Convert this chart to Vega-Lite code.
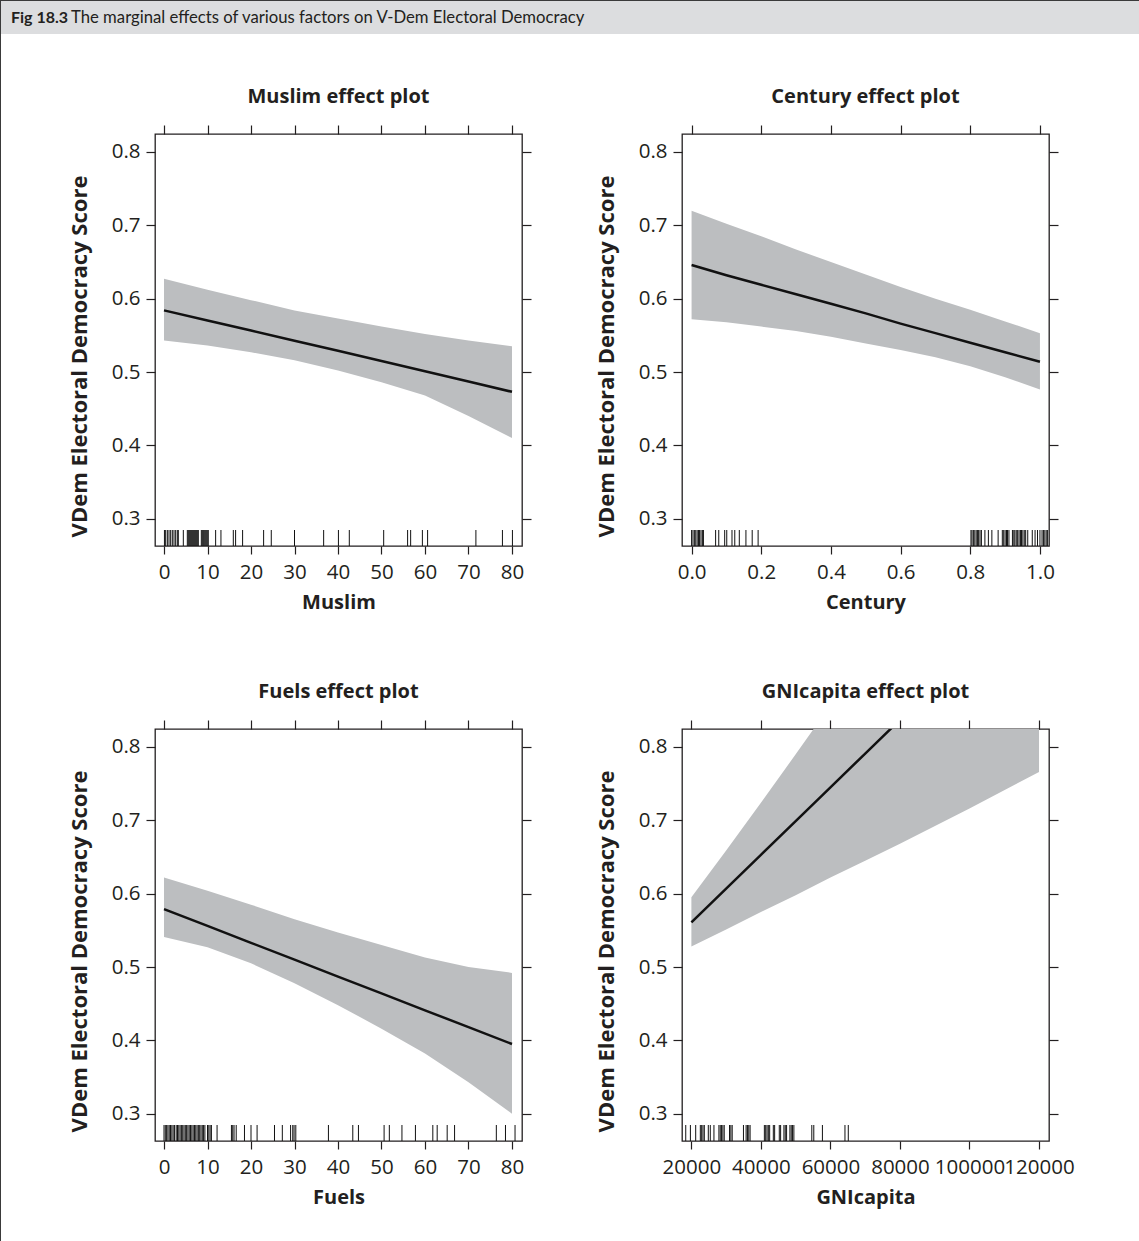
{
  "$schema": "https://vega.github.io/schema/vega-lite/v6.json",
  "padding": 0,
  "background": "white",
  "datasets": {
    "muslim": [
      {"x": 0, "lo": 0.543, "hi": 0.627, "fit": 0.584},
      {"x": 10, "lo": 0.536, "hi": 0.612, "fit": 0.5702},
      {"x": 20, "lo": 0.527, "hi": 0.598, "fit": 0.5565},
      {"x": 30, "lo": 0.516, "hi": 0.584, "fit": 0.5427},
      {"x": 40, "lo": 0.502, "hi": 0.573, "fit": 0.5289},
      {"x": 50, "lo": 0.486, "hi": 0.562, "fit": 0.5151},
      {"x": 60, "lo": 0.468, "hi": 0.552, "fit": 0.5011},
      {"x": 70, "lo": 0.44, "hi": 0.543, "fit": 0.4871},
      {"x": 80, "lo": 0.41, "hi": 0.535, "fit": 0.473}
    ],
    "muslim_rug": [
      {"x": 0.1}, {"x": 0.38}, {"x": 0.77}, {"x": 1.15}, {"x": 1.53}, {"x": 1.91}, {"x": 2.3}, {"x": 2.68}, {"x": 3.06}, {"x": 3.29},
      {"x": 4.44}, {"x": 5.36}, {"x": 5.59}, {"x": 5.82}, {"x": 6.05}, {"x": 6.28}, {"x": 6.51}, {"x": 6.74}, {"x": 6.97}, {"x": 7.2},
      {"x": 7.43}, {"x": 7.66}, {"x": 7.89}, {"x": 8.58}, {"x": 8.81}, {"x": 9.04}, {"x": 9.26}, {"x": 9.49}, {"x": 9.72}, {"x": 9.95},
      {"x": 10.18}, {"x": 11.87}, {"x": 13.09}, {"x": 15.93}, {"x": 16.46}, {"x": 18.07}, {"x": 22.9}, {"x": 24.66}, {"x": 30.0},
      {"x": 36.7}, {"x": 40.1}, {"x": 42.6}, {"x": 50.5}, {"x": 56.0}, {"x": 56.7}, {"x": 59.4}, {"x": 60.6}, {"x": 71.7}, {"x": 77.8}, {"x": 80.1}
    ],
    "century": [
      {"x": 0.0, "lo": 0.572, "hi": 0.72, "fit": 0.646},
      {"x": 0.1, "lo": 0.568, "hi": 0.702, "fit": 0.632},
      {"x": 0.2, "lo": 0.562, "hi": 0.685, "fit": 0.619},
      {"x": 0.3, "lo": 0.556, "hi": 0.667, "fit": 0.606},
      {"x": 0.4, "lo": 0.548, "hi": 0.65, "fit": 0.593},
      {"x": 0.5, "lo": 0.539, "hi": 0.633, "fit": 0.58},
      {"x": 0.6, "lo": 0.53, "hi": 0.616, "fit": 0.566},
      {"x": 0.7, "lo": 0.52, "hi": 0.6, "fit": 0.553},
      {"x": 0.8, "lo": 0.508, "hi": 0.585, "fit": 0.54},
      {"x": 0.9, "lo": 0.493, "hi": 0.569, "fit": 0.527},
      {"x": 1.0, "lo": 0.476, "hi": 0.553, "fit": 0.514}
    ],
    "century_rug": [
      {"x": 0.0}, {"x": 0.004}, {"x": 0.008}, {"x": 0.012}, {"x": 0.016}, {"x": 0.02}, {"x": 0.023}, {"x": 0.027}, {"x": 0.031}, {"x": 0.034},
      {"x": 0.069}, {"x": 0.078}, {"x": 0.095}, {"x": 0.101}, {"x": 0.116}, {"x": 0.124}, {"x": 0.137}, {"x": 0.156}, {"x": 0.174}, {"x": 0.191},
      {"x": 0.802}, {"x": 0.805}, {"x": 0.809}, {"x": 0.813}, {"x": 0.817}, {"x": 0.821}, {"x": 0.824}, {"x": 0.828}, {"x": 0.832},
      {"x": 0.842}, {"x": 0.852}, {"x": 0.862}, {"x": 0.88}, {"x": 0.892}, {"x": 0.896}, {"x": 0.9}, {"x": 0.904}, {"x": 0.907}, {"x": 0.911},
      {"x": 0.921}, {"x": 0.925}, {"x": 0.928}, {"x": 0.932}, {"x": 0.936}, {"x": 0.94}, {"x": 0.944}, {"x": 0.947}, {"x": 0.951}, {"x": 0.955},
      {"x": 0.959}, {"x": 0.965}, {"x": 0.978}, {"x": 0.986}, {"x": 0.993}, {"x": 1.0}, {"x": 1.006}, {"x": 1.01}, {"x": 1.014}, {"x": 1.018}, {"x": 1.022}
    ],
    "fuels": [
      {"x": 0, "lo": 0.541, "hi": 0.622, "fit": 0.579},
      {"x": 10, "lo": 0.527, "hi": 0.604, "fit": 0.556},
      {"x": 20, "lo": 0.505, "hi": 0.585, "fit": 0.533},
      {"x": 30, "lo": 0.478, "hi": 0.565, "fit": 0.51},
      {"x": 40, "lo": 0.448, "hi": 0.547, "fit": 0.487},
      {"x": 50, "lo": 0.416, "hi": 0.53, "fit": 0.464},
      {"x": 60, "lo": 0.382, "hi": 0.513, "fit": 0.441},
      {"x": 70, "lo": 0.343, "hi": 0.5, "fit": 0.418},
      {"x": 80, "lo": 0.3, "hi": 0.492, "fit": 0.395}
    ],
    "fuels_rug": [
      {"x": 0.0}, {"x": 0.3}, {"x": 0.6}, {"x": 0.9}, {"x": 1.2}, {"x": 1.5}, {"x": 1.8}, {"x": 2.1}, {"x": 2.4}, {"x": 2.8},
      {"x": 3.1}, {"x": 3.4}, {"x": 3.7}, {"x": 4.0}, {"x": 4.3}, {"x": 4.6}, {"x": 4.9}, {"x": 5.2}, {"x": 5.5}, {"x": 5.8},
      {"x": 6.1}, {"x": 6.4}, {"x": 6.7}, {"x": 7.0}, {"x": 7.3}, {"x": 7.6}, {"x": 7.9}, {"x": 8.2}, {"x": 8.5}, {"x": 8.8},
      {"x": 9.1}, {"x": 9.4}, {"x": 10.0}, {"x": 10.3}, {"x": 10.6}, {"x": 10.9}, {"x": 12.2}, {"x": 15.5}, {"x": 15.8}, {"x": 16.1},
      {"x": 16.6}, {"x": 18.5}, {"x": 20.0}, {"x": 21.4}, {"x": 25.4}, {"x": 27.2}, {"x": 29.1}, {"x": 29.6}, {"x": 29.9}, {"x": 30.3},
      {"x": 37.8}, {"x": 43.4}, {"x": 44.7}, {"x": 50.6}, {"x": 51.8}, {"x": 54.7}, {"x": 57.8}, {"x": 61.8}, {"x": 62.8}, {"x": 65.1},
      {"x": 66.8}, {"x": 76.4}, {"x": 78.5}, {"x": 80.7}
    ],
    "gni": [
      {"x": 20000, "lo": 0.528, "hi": 0.595, "fit": 0.561},
      {"x": 30000, "lo": 0.551, "hi": 0.659, "fit": 0.607},
      {"x": 40000, "lo": 0.575, "hi": 0.724, "fit": 0.653},
      {"x": 50000, "lo": 0.598, "hi": 0.79, "fit": 0.699},
      {"x": 60000, "lo": 0.622, "hi": 0.857, "fit": 0.745},
      {"x": 70000, "lo": 0.645, "hi": 0.925, "fit": 0.791},
      {"x": 80000, "lo": 0.668, "hi": 0.995, "fit": 0.837},
      {"x": 100000, "lo": 0.716, "hi": 1.135, "fit": 0.929},
      {"x": 120000, "lo": 0.766, "hi": 1.275, "fit": 1.022}
    ],
    "gni_rug": [
      {"x": 18378}, {"x": 19714}, {"x": 21240}, {"x": 22576}, {"x": 22958}, {"x": 23340}, {"x": 23721}, {"x": 24866}, {"x": 25439}, {"x": 26489},
      {"x": 27920}, {"x": 28302}, {"x": 28683}, {"x": 29065}, {"x": 29447}, {"x": 30973}, {"x": 31355}, {"x": 31737}, {"x": 34981}, {"x": 35744},
      {"x": 36126}, {"x": 36508}, {"x": 36889}, {"x": 40992}, {"x": 41374}, {"x": 41756}, {"x": 42137}, {"x": 42519}, {"x": 43569}, {"x": 43950},
      {"x": 45286}, {"x": 45668}, {"x": 46622}, {"x": 47004}, {"x": 47385}, {"x": 48340}, {"x": 48721}, {"x": 49103}, {"x": 49485}, {"x": 54637},
      {"x": 55210}, {"x": 57691}, {"x": 64179}, {"x": 65134}
    ],
    "head_a": [{"label": "Fig 18.3"}],
    "head_b": [{"label": "The marginal effects of various factors on V-Dem Electoral Democracy"}]
  },
  "spacing": 0,
  "hconcat": [
    {
      "width": 1, "height": 1241,
      "view": {"fill": "#3a3a3a", "stroke": null},
      "data": {"values": []},
      "mark": "point"
    },
    {
      "spacing": 52,
      "vconcat": [
        {
          "spacing": 0,
          "vconcat": [
            {
              "width": 1138, "height": 1,
              "view": {"fill": "#3a3a3a", "stroke": null},
              "data": {"values": []},
              "mark": "point"
            },
            {
              "width": 1138, "height": 33,
              "view": {"fill": "#dcdddf", "stroke": null},
              "layer": [
                {
                  "data": {"name": "head_a"},
                  "mark": {"type": "text", "font": "Lato", "fontSize": 16, "fontWeight": "bold", "align": "left", "baseline": "middle", "dx": 10, "color": "#231f20"},
                  "encoding": {
                    "x": {"datum": 0, "type": "quantitative", "scale": {"domain": [0, 1]}, "axis": null},
                    "y": {"datum": 0.5, "type": "quantitative", "scale": {"domain": [0, 1]}, "axis": null},
                    "text": {"field": "label"}
                  }
                },
                {
                  "data": {"name": "head_b"},
                  "mark": {"type": "text", "font": "Lato", "fontSize": 16.7, "fontWeight": "normal", "align": "left", "baseline": "middle", "dx": 70, "color": "#231f20"},
                  "encoding": {
                    "x": {"datum": 0, "type": "quantitative", "scale": {"domain": [0, 1]}, "axis": null},
                    "y": {"datum": 0.5, "type": "quantitative", "scale": {"domain": [0, 1]}, "axis": null},
                    "text": {"field": "label"}
                  }
                }
              ]
            }
          ]
        },
        {
          "spacing": 0,
          "hconcat": [
            {
              "width": 66, "height": 10,
              "view": {"stroke": null},
              "data": {"values": []},
              "mark": "point"
            },
            {
              "columns": 2,
              "bounds": "flush",
              "spacing": {"column": 160, "row": 183},
              "concat": [
                {
                  "width": 367, "height": 412,
                  "title": {"text": "Muslim effect plot"},
                  "layer": [
                    {
                      "data": {"name": "muslim"},
                      "mark": {"type": "area", "color": "#bcbec0", "clip": true},
                      "encoding": {
                        "x": {"field": "x", "type": "quantitative", "scale": {"domain": [-2.07, 82.3], "nice": false, "zero": false},
                          "axis": {"orient": "bottom", "values": [0, 10, 20, 30, 40, 50, 60, 70, 80], "title": "Muslim", "tickSize": 8}},
                        "y": {"field": "lo", "type": "quantitative", "scale": {"domain": [0.2628, 0.8245], "nice": false, "zero": false},
                          "axis": {"orient": "left", "values": [0.3, 0.4, 0.5, 0.6, 0.7, 0.8], "format": ".1f", "title": "VDem Electoral Democracy Score"}},
                        "y2": {"field": "hi"}
                      }
                    },
                    {
                      "data": {"name": "muslim"},
                      "mark": {"type": "line", "color": "#111111", "strokeWidth": 2.5, "clip": true},
                      "encoding": {
                        "x": {"field": "x", "type": "quantitative", "scale": {"domain": [-2.07, 82.3], "nice": false, "zero": false},
                          "axis": {"orient": "top", "values": [0, 10, 20, 30, 40, 50, 60, 70, 80], "labels": false, "title": null}},
                        "y": {"field": "fit", "type": "quantitative", "scale": {"domain": [0.2628, 0.8245], "nice": false, "zero": false},
                          "axis": {"orient": "right", "values": [0.3, 0.4, 0.5, 0.6, 0.7, 0.8], "labels": false, "title": null}}
                      }
                    },
                    {
                      "data": {"name": "muslim_rug"},
                      "mark": {"type": "rule", "color": "#111111", "strokeWidth": 1, "clip": true},
                      "encoding": {
                        "x": {"field": "x", "type": "quantitative", "scale": {"domain": [-2.07, 82.3], "nice": false, "zero": false}, "axis": null},
                        "y": {"datum": 0.2628, "type": "quantitative", "scale": {"domain": [0.2628, 0.8245], "nice": false, "zero": false}, "axis": null},
                        "y2": {"datum": 0.2846}
                      }
                    }
                  ],
                  "resolve": {"axis": {"x": "independent", "y": "independent"}}
                },
                {
                  "width": 367, "height": 412,
                  "title": {"text": "Century effect plot"},
                  "layer": [
                    {
                      "data": {"name": "century"},
                      "mark": {"type": "area", "color": "#bcbec0", "clip": true},
                      "encoding": {
                        "x": {"field": "x", "type": "quantitative", "scale": {"domain": [-0.0275, 1.026], "nice": false, "zero": false},
                          "axis": {"orient": "bottom", "values": [0, 0.2, 0.4, 0.6, 0.8, 1.0], "format": ".1f", "title": "Century", "tickSize": 8}},
                        "y": {"field": "lo", "type": "quantitative", "scale": {"domain": [0.2628, 0.8245], "nice": false, "zero": false},
                          "axis": {"orient": "left", "values": [0.3, 0.4, 0.5, 0.6, 0.7, 0.8], "format": ".1f", "title": "VDem Electoral Democracy Score"}},
                        "y2": {"field": "hi"}
                      }
                    },
                    {
                      "data": {"name": "century"},
                      "mark": {"type": "line", "color": "#111111", "strokeWidth": 2.5, "clip": true},
                      "encoding": {
                        "x": {"field": "x", "type": "quantitative", "scale": {"domain": [-0.0275, 1.026], "nice": false, "zero": false},
                          "axis": {"orient": "top", "values": [0, 0.2, 0.4, 0.6, 0.8, 1.0], "labels": false, "title": null}},
                        "y": {"field": "fit", "type": "quantitative", "scale": {"domain": [0.2628, 0.8245], "nice": false, "zero": false},
                          "axis": {"orient": "right", "values": [0.3, 0.4, 0.5, 0.6, 0.7, 0.8], "labels": false, "title": null}}
                      }
                    },
                    {
                      "data": {"name": "century_rug"},
                      "mark": {"type": "rule", "color": "#111111", "strokeWidth": 1, "clip": true},
                      "encoding": {
                        "x": {"field": "x", "type": "quantitative", "scale": {"domain": [-0.0275, 1.026], "nice": false, "zero": false}, "axis": null},
                        "y": {"datum": 0.2628, "type": "quantitative", "scale": {"domain": [0.2628, 0.8245], "nice": false, "zero": false}, "axis": null},
                        "y2": {"datum": 0.2846}
                      }
                    }
                  ],
                  "resolve": {"axis": {"x": "independent", "y": "independent"}}
                },
                {
                  "width": 367, "height": 412,
                  "title": {"text": "Fuels effect plot"},
                  "layer": [
                    {
                      "data": {"name": "fuels"},
                      "mark": {"type": "area", "color": "#bcbec0", "clip": true},
                      "encoding": {
                        "x": {"field": "x", "type": "quantitative", "scale": {"domain": [-2.07, 82.3], "nice": false, "zero": false},
                          "axis": {"orient": "bottom", "values": [0, 10, 20, 30, 40, 50, 60, 70, 80], "title": "Fuels", "tickSize": 8}},
                        "y": {"field": "lo", "type": "quantitative", "scale": {"domain": [0.2628, 0.8245], "nice": false, "zero": false},
                          "axis": {"orient": "left", "values": [0.3, 0.4, 0.5, 0.6, 0.7, 0.8], "format": ".1f", "title": "VDem Electoral Democracy Score"}},
                        "y2": {"field": "hi"}
                      }
                    },
                    {
                      "data": {"name": "fuels"},
                      "mark": {"type": "line", "color": "#111111", "strokeWidth": 2.5, "clip": true},
                      "encoding": {
                        "x": {"field": "x", "type": "quantitative", "scale": {"domain": [-2.07, 82.3], "nice": false, "zero": false},
                          "axis": {"orient": "top", "values": [0, 10, 20, 30, 40, 50, 60, 70, 80], "labels": false, "title": null}},
                        "y": {"field": "fit", "type": "quantitative", "scale": {"domain": [0.2628, 0.8245], "nice": false, "zero": false},
                          "axis": {"orient": "right", "values": [0.3, 0.4, 0.5, 0.6, 0.7, 0.8], "labels": false, "title": null}}
                      }
                    },
                    {
                      "data": {"name": "fuels_rug"},
                      "mark": {"type": "rule", "color": "#111111", "strokeWidth": 1, "clip": true},
                      "encoding": {
                        "x": {"field": "x", "type": "quantitative", "scale": {"domain": [-2.07, 82.3], "nice": false, "zero": false}, "axis": null},
                        "y": {"datum": 0.2628, "type": "quantitative", "scale": {"domain": [0.2628, 0.8245], "nice": false, "zero": false}, "axis": null},
                        "y2": {"datum": 0.2846}
                      }
                    }
                  ],
                  "resolve": {"axis": {"x": "independent", "y": "independent"}}
                },
                {
                  "width": 367, "height": 412,
                  "title": {"text": "GNIcapita effect plot"},
                  "layer": [
                    {
                      "data": {"name": "gni"},
                      "mark": {"type": "area", "color": "#bcbec0", "clip": true},
                      "encoding": {
                        "x": {"field": "x", "type": "quantitative", "scale": {"domain": [17300, 122870], "nice": false, "zero": false},
                          "axis": {"orient": "bottom", "values": [20000, 40000, 60000, 80000, 100000, 120000], "format": "d", "title": "GNIcapita", "tickSize": 8}},
                        "y": {"field": "lo", "type": "quantitative", "scale": {"domain": [0.2628, 0.8245], "nice": false, "zero": false},
                          "axis": {"orient": "left", "values": [0.3, 0.4, 0.5, 0.6, 0.7, 0.8], "format": ".1f", "title": "VDem Electoral Democracy Score"}},
                        "y2": {"field": "hi"}
                      }
                    },
                    {
                      "data": {"name": "gni"},
                      "mark": {"type": "line", "color": "#111111", "strokeWidth": 2.5, "clip": true},
                      "encoding": {
                        "x": {"field": "x", "type": "quantitative", "scale": {"domain": [17300, 122870], "nice": false, "zero": false},
                          "axis": {"orient": "top", "values": [20000, 40000, 60000, 80000, 100000, 120000], "labels": false, "title": null}},
                        "y": {"field": "fit", "type": "quantitative", "scale": {"domain": [0.2628, 0.8245], "nice": false, "zero": false},
                          "axis": {"orient": "right", "values": [0.3, 0.4, 0.5, 0.6, 0.7, 0.8], "labels": false, "title": null}}
                      }
                    },
                    {
                      "data": {"name": "gni_rug"},
                      "mark": {"type": "rule", "color": "#111111", "strokeWidth": 1, "clip": true},
                      "encoding": {
                        "x": {"field": "x", "type": "quantitative", "scale": {"domain": [17300, 122870], "nice": false, "zero": false}, "axis": null},
                        "y": {"datum": 0.2628, "type": "quantitative", "scale": {"domain": [0.2628, 0.8245], "nice": false, "zero": false}, "axis": null},
                        "y2": {"datum": 0.2846}
                      }
                    }
                  ],
                  "resolve": {"axis": {"x": "independent", "y": "independent"}}
                }
              ]
            }
          ]
        }
      ]
    }
  ],
  "config": {
    "view": {"stroke": "#231f20", "strokeWidth": 1.3},
    "axis": {
      "domain": false, "grid": false,
      "labelFont": "Open Sans", "labelFontSize": 20.5, "labelColor": "#231f20",
      "titleFont": "Open Sans", "titleFontSize": 20, "titleFontWeight": "bold", "titleColor": "#231f20",
      "tickColor": "#231f20", "tickWidth": 1.2, "tickSize": 9,
      "labelOverlap": false, "labelFlush": false, "labelPadding": 6, "titlePadding": 10
    },
    "axisLeft": {"titlePadding": 20, "titleFontSize": 22, "titleY": 222},
    "axisBottom": {"labelPadding": 8, "titlePadding": 10},
    "title": {"font": "Open Sans", "fontSize": 20, "fontWeight": "bold", "color": "#231f20", "offset": 17}
  }
}
